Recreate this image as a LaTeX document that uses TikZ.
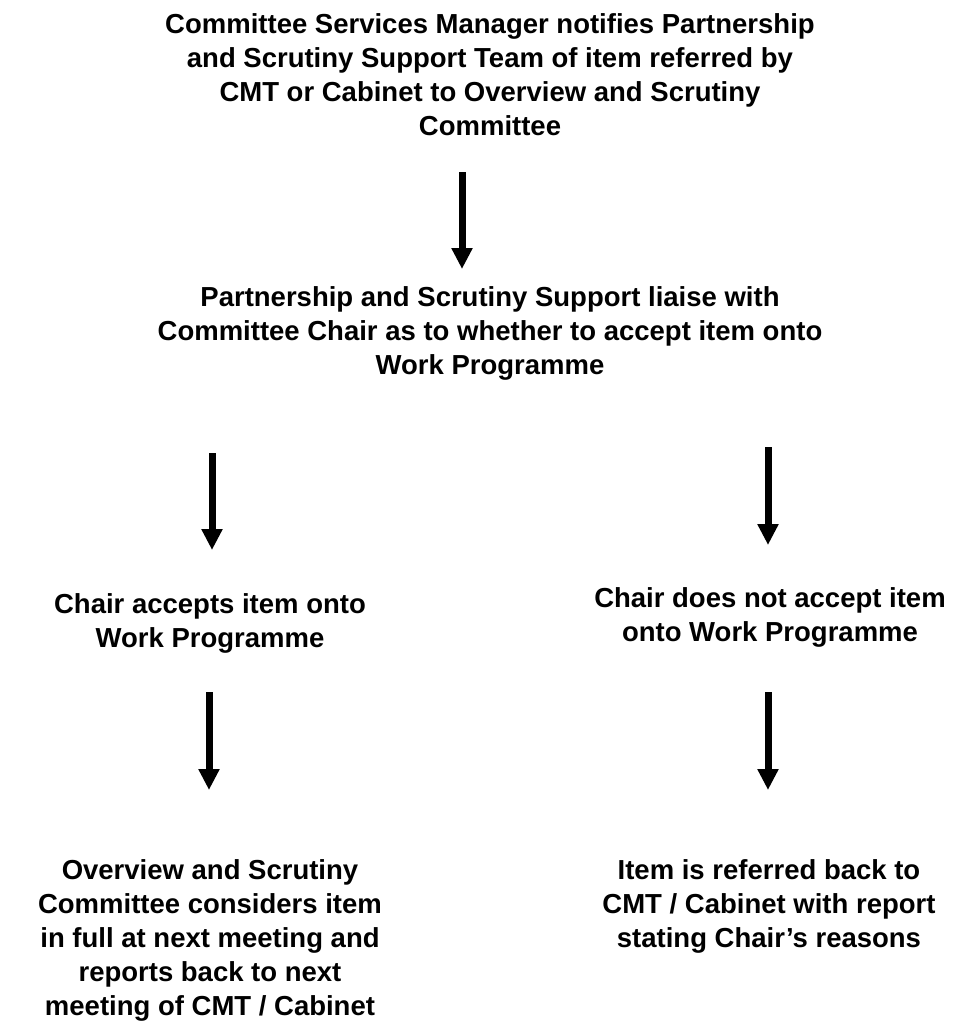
\documentclass[tikz,border=0pt]{standalone}
\usepackage{fontspec}
\setmainfont{Liberation Sans}
\usetikzlibrary{arrows.meta}
\tikzset{
  stepbox/.style={align=center, inner sep=0pt, anchor=north,
    font=\fontsize{27.5}{34}\selectfont\bfseries},
  flowarrow/.style={line width=7pt, -{Triangle[width=20pt,length=21pt]}}
}
\begin{document}
\begin{tikzpicture}[x=1pt,y=-1pt]
\useasboundingbox (0,0) rectangle (979,1034);
\node[stepbox] (top) at (490,13) {Committee Services Manager notifies Partnership\\and Scrutiny Support Team of item referred by\\CMT or Cabinet to Overview and Scrutiny\\Committee};
\node[stepbox] (liaise) at (490,286) {Partnership and Scrutiny Support liaise with\\Committee Chair as to whether to accept item onto\\Work Programme};
\node[stepbox] (accept) at (210,593) {Chair accepts item onto\\Work Programme};
\node[stepbox] (reject) at (770,587) {Chair does not accept item\\onto Work Programme};
\node[stepbox] (consider) at (210,859) {Overview and Scrutiny\\Committee considers item\\in full at next meeting and\\reports back to next\\meeting of CMT / Cabinet};
\node[stepbox] (referback) at (769,859) {Item is referred back to\\CMT / Cabinet with report\\stating Chair’s reasons};
\coordinate (a1s) at (462,172); \coordinate (a1e) at (462,269);
\coordinate (a2s) at (212,453); \coordinate (a2e) at (212,550);
\coordinate (a3s) at (768,447); \coordinate (a3e) at (768,545);
\coordinate (a4s) at (209,692); \coordinate (a4e) at (209,790);
\coordinate (a5s) at (768,692); \coordinate (a5e) at (768,790);
\draw[flowarrow] (a1s) -- (a1e);
\draw[flowarrow] (a2s) -- (a2e);
\draw[flowarrow] (a3s) -- (a3e);
\draw[flowarrow] (a4s) -- (a4e);
\draw[flowarrow] (a5s) -- (a5e);
\end{tikzpicture}
\end{document}
